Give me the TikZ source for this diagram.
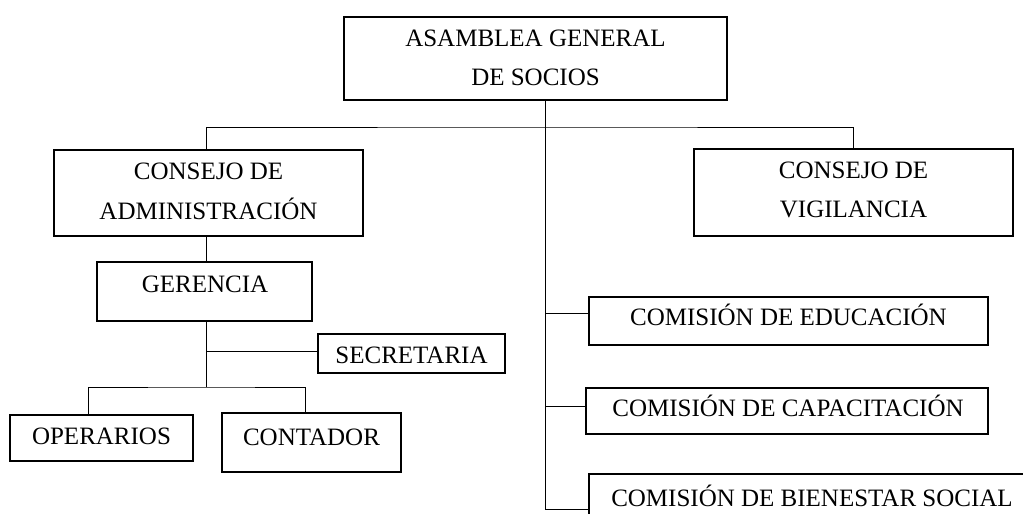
\documentclass[tikz,border=0pt]{standalone}
\usepackage{fontspec}
\setmainfont{Liberation Serif}
\begin{document}
\begin{tikzpicture}[x=1pt,y=-1pt,
  box/.style={draw=black, line width=2pt, inner sep=0pt, rectangle},
  conn/.style={draw=black, line width=1pt},
  txt/.style={inner sep=0pt, anchor=base, font=\fontsize{25pt}{30pt}\selectfont}]
\useasboundingbox (0,0) rectangle (1023,514);
\fill[white] (0,0) rectangle (1023,514);
\clip (0,0) rectangle (1023,514);

% boxes
\node[box, minimum width=383pt, minimum height=83pt] (asamblea) at (535.5,58.5) {};
\node[box, minimum width=309pt, minimum height=86pt] (cadmin) at (208.5,193) {};
\node[box, minimum width=319pt, minimum height=87pt] (cvig) at (853.5,192.5) {};
\node[box, minimum width=215pt, minimum height=59pt] (gerencia) at (204.5,291.5) {};
\node[box, minimum width=187pt, minimum height=39pt] (secretaria) at (411.5,353.5) {};
\node[box, minimum width=183pt, minimum height=46pt] (operarios) at (101.5,438) {};
\node[box, minimum width=179pt, minimum height=59pt] (contador) at (311.5,442.5) {};
\node[box, minimum width=399pt, minimum height=48pt] (educacion) at (788.5,321) {};
\node[box, minimum width=402pt, minimum height=46pt] (capacitacion) at (787,411) {};
\node[box, minimum width=446pt, minimum height=66pt] (bienestar) at (812,507) {};

% texts
\node[txt] (t1a) at (535.5,46) {ASAMBLEA GENERAL};
\node[txt] (t1b) at (535.5,85) {DE SOCIOS};
\node[txt] (t2a) at (208.5,179) {CONSEJO DE};
\node[txt] (t2b) at (208.5,219) {ADMINISTRACIÓN};
\node[txt] (t3a) at (853.5,178) {CONSEJO DE};
\node[txt] (t3b) at (853.5,217) {VIGILANCIA};
\node[txt] (t4) at (205,292.5) {GERENCIA};
\node[txt] (t5) at (411.5,363) {SECRETARIA};
\node[txt] (t6) at (101.5,444) {OPERARIOS};
\node[txt] (t7) at (311.5,445) {CONTADOR};
\node[txt] (t8) at (788.5,325) {COMISIÓN DE EDUCACIÓN};
\node[txt] (t9) at (788,416) {COMISIÓN DE CAPACITACIÓN};
\node[txt] (t10) at (812,506) {COMISIÓN DE BIENESTAR SOCIAL};

% connector helpers
\coordinate (bus) at (545,127);
\coordinate (leftcol) at (206,0);
\coordinate (opbus) at (206,387);

% connectors
\draw[conn] (asamblea.south -| bus) -- ([yshift=-2pt]bienestar.west -| bus) -- ([yshift=-2pt]bienestar.west);
\draw[conn] (cadmin.north -| leftcol) |- (bus) -| (cvig.north);
\draw[conn] (cadmin.south -| leftcol) -- (gerencia.north -| leftcol);
\draw[conn] (gerencia.south -| leftcol) -- (opbus);
\draw[conn] ([yshift=2.5pt]secretaria.west) -- ([yshift=2.5pt]secretaria.west -| leftcol);
\draw[conn] ([xshift=-13.5pt]operarios.north) |- (opbus) -| ([xshift=-6.5pt]contador.north);
\draw[conn] ([yshift=8pt]educacion.west) -- ([yshift=8pt]educacion.west -| bus);
\draw[conn] ([yshift=5pt]capacitacion.west) -- ([yshift=5pt]capacitacion.west -| bus);
\end{tikzpicture}
\end{document}
